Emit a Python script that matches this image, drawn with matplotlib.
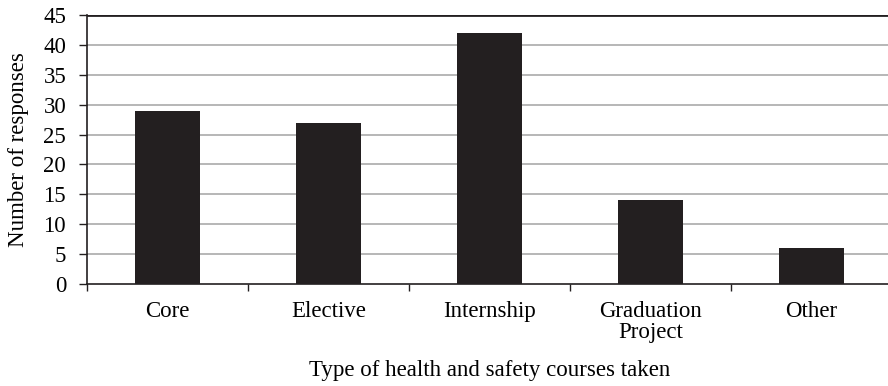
import matplotlib
matplotlib.use("Agg")
import matplotlib.pyplot as plt
import numpy as np

categories = ["Core", "Elective", "Internship", "Graduation\nProject", "Other"]
responses = [29, 27, 42, 14, 6]
y_ticks = [0, 5, 10, 15, 20, 25, 30, 35, 40, 45]

plt.rcParams['font.family'] = ['Liberation Serif', 'DejaVu Serif']
dark = "#231f20"
fs = 16.5

fig = plt.figure(figsize=(8.88, 3.86), dpi=100)
ax = fig.add_axes([87/888, 102/386, 805/888, 269/386])

x = np.arange(len(categories))
ax.bar(x, responses, width=0.405, color=dark, zorder=3)

ax.set_xlim(-0.5, len(categories) - 0.5)
ax.set_ylim(0, 45)
ax.set_yticks(y_ticks)
ax.set_yticklabels([str(t) for t in y_ticks], fontsize=fs)

for t in y_ticks[1:-1]:
    ax.axhline(t, color="#aaaaaa", lw=1.2, zorder=1)
ax.axhline(45, color=dark, lw=2, zorder=2)

# category labels sit between the boundary ticks
ax.set_xticks(np.arange(-0.5, len(categories), 1.0))
ax.set_xticklabels([])
ax.set_xticks(x, minor=True)
ax.set_xticklabels(categories, minor=True, fontsize=fs, linespacing=1.0)
ax.tick_params(axis="x", which="minor", length=0, pad=12)
ax.tick_params(axis="x", which="major", length=5, width=1, color=dark, direction="out")
ax.tick_params(axis="y", length=6, width=1, color=dark, direction="out", pad=9)

for side in ["top", "right"]:
    ax.spines[side].set_visible(False)
for side in ["left", "bottom"]:
    ax.spines[side].set_color(dark)
    ax.spines[side].set_linewidth(1.2)

ax.set_ylabel("Number of responses", fontsize=fs)
ax.yaxis.set_label_coords(-58/805, 0.5)
ax.set_xlabel("Type of health and safety courses taken", fontsize=fs)
ax.xaxis.set_label_coords(0.5, -76/269)

fig.savefig("out.png", dpi=100)
